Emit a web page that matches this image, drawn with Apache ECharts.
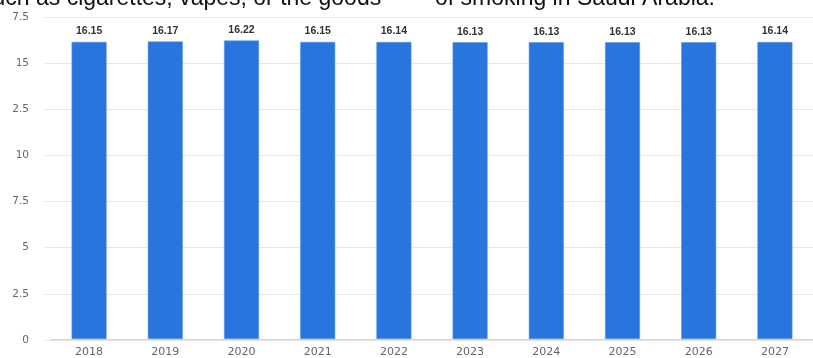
<!DOCTYPE html>
<html>
<head>
<meta charset="utf-8">
<script src="https://cdn.jsdelivr.net/npm/echarts@6/dist/echarts.min.js"></script>
<style>
  html, body { margin: 0; padding: 0; background: #fff; }
  #chart { width: 813px; height: 358px; }
</style>
</head>
<body>
<div id="chart"></div>
<script>
// Years on the category axis
const years = ['2018', '2019', '2020', '2021', '2022', '2023', '2024', '2025', '2026', '2027'];
// Values for each year
const values = [16.15, 16.17, 16.22, 16.15, 16.14, 16.13, 16.13, 16.13, 16.13, 16.14];
// Value-axis tick labels, bottom to top
const yTickLabels = ['0', '2.5', '5', '7.5', '10', '2.5', '15', '7.5'];
// Heading text running along the top edge
const headingLeft = 'such as cigarettes, vapes, or the goods';
const headingRight = 'of smoking in Saudi Arabia.';

const yMax = 17.5;
const yStep = 2.5;

const chart = echarts.init(document.getElementById('chart'), null, { renderer: 'canvas' });

chart.setOption({
  animation: false,
  backgroundColor: '#ffffff',
  grid: [
    { left: 51, right: -1, top: 17, bottom: 18 },
    { left: 45, right: 0, top: 17, bottom: 18 }
  ],
  xAxis: [
    {
      type: 'category',
      gridIndex: 0,
      data: years,
      axisLine: { lineStyle: { color: '#ccd6eb', width: 1 } },
      axisTick: { alignWithLabel: true, length: 8, lineStyle: { color: '#ccd6eb' } },
      axisLabel: {
        color: '#666666',
        fontFamily: 'DejaVu Sans',
        fontSize: 11,
        margin: 8
      }
    },
    { type: 'value', gridIndex: 1, show: false, min: 0, max: 1 }
  ],
  yAxis: [
    { type: 'value', gridIndex: 0, min: 0, max: yMax, interval: yStep, show: false },
    {
      type: 'value',
      gridIndex: 1,
      min: 0,
      max: yMax,
      interval: yStep,
      axisLine: { show: false },
      axisTick: { show: false },
      splitLine: { lineStyle: { color: '#e6e6e6', width: 1 } },
      axisLabel: {
        color: '#666666',
        fontFamily: 'DejaVu Sans',
        fontSize: 10.5,
        margin: 16,
        formatter: function (v) {
          const i = Math.round(v / yStep);
          return yTickLabels[i] !== undefined ? yTickLabels[i] : '';
        }
      }
    }
  ],
  graphic: [
    {
      type: 'text',
      left: -19,
      top: -13,
      style: {
        text: headingLeft,
        font: '23px "Liberation Sans", Arial, sans-serif',
        fill: '#111111'
      }
    },
    {
      type: 'text',
      left: 435,
      top: -13,
      style: {
        text: headingRight,
        font: '23px "Liberation Sans", Arial, sans-serif',
        fill: '#111111'
      }
    }
  ],
  series: [
    {
      type: 'bar',
      xAxisIndex: 0,
      yAxisIndex: 0,
      data: values,
      barWidth: 35,
      itemStyle: { color: '#2876dd', borderColor: '#5b96e6', borderWidth: 0.6 },
      label: {
        show: true,
        position: 'top',
        distance: 5,
        color: '#333333',
        fontWeight: 'bold',
        fontFamily: 'Liberation Sans, Arial, sans-serif',
        fontSize: 10.5,
        formatter: function (p) { return p.value.toFixed(2); }
      }
    }
  ]
});
</script>
</body>
</html>
